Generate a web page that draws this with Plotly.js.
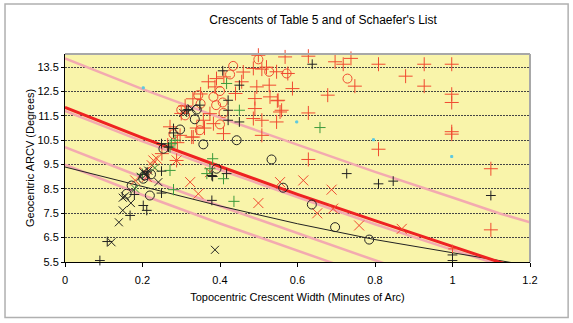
<!DOCTYPE html>
<html><head><meta charset="utf-8">
<script src="https://cdn.plot.ly/plotly-3.0.1.min.js"></script>
<style>html,body{margin:0;padding:0;background:#fff}#chart{width:573px;height:323px}</style>
</head><body><div id="chart"></div>
<script>
// ---- data ----
const lineW = [0, 0.2, 0.4, 0.6, 0.8, 1.0, 1.12, 1.2];
const redLine   = [11.85, 10.6, 9.42, 8.28, 7.2, 6.14, 5.5, 5.13];
const pinkTop   = [13.86, 12.6, 11.43, 10.3, 9.2, 8.15, 7.5, 7.13];
const pinkNear  = [11.7, 10.45, 9.28, 8.15, 7.05, 6.0, 5.38, 4.98];
const pinkMid   = [10.22, 8.97, 7.8, 6.67, 5.57, 4.5, 3.9, 3.5];
const pinkLow   = [9.5, 8.25, 7.08, 5.95, 4.85, 3.8, 3.2, 2.8];
const blackLine = [9.4, 8.6, 7.8, 7.07, 6.42, 5.88, 5.55, 5.35];

const redPlusW = [0.499,0.568,0.628,0.697,0.718,0.738,0.809,0.927,0.998,0.879,0.927,0.998,0.998,0.998,0.998,0.809,1.099,1.099,0.575,0.748,0.587,0.678,0.628,0.628,0.559,0.49,0.548,0.508,0.44,0.456,0.486,0.508,0.546,0.495,0.527,0.49,0.529,0.55,0.555,0.486,0.508,0.546,0.409,0.391,0.387,0.271,0.297,0.331,0.357,0.36,0.383,0.374,0.35,0.37,0.33,0.3,0.31,0.34,0.29,0.265,0.25,0.327,0.288,0.41,0.46,0.52];
const redPlusA = [13.99,13.92,13.95,13.72,13.62,13.86,13.62,13.62,13.62,13.13,12.72,12.39,12.05,10.85,10.75,10.13,9.33,6.82,13.24,12.72,12.62,12.35,11.62,9.71,11.73,11.8,12.12,10.7,12.42,12.9,13.45,13.42,13.31,12.69,12.76,12.21,12.28,12.14,11.66,11.39,11.32,11.25,10.77,13.03,12.69,11.05,10.7,10.63,11.32,11.0,11.18,11.59,12.4,12.9,12.2,11.6,11.9,11.0,10.4,10.3,9.95,10.63,9.67,13.1,13.3,13.5];
const redCircW = [0.31,0.348,0.4,0.407,0.4,0.426,0.434,0.499,0.527,0.572,0.729,0.39,0.344,0.383,0.35,0.409,0.3,0.28];
const redCircA = [11.52,10.91,11.15,12.05,12.52,13.2,13.55,13.82,13.31,13.24,13.03,11.94,12.35,12.28,12.0,11.62,11.75,10.75];
const redXW = [0.224,0.228,0.237,0.288,0.211,0.181,0.323,0.344,0.374,0.555,0.615,0.688,0.499,0.651,0.692,0.759,0.869,0.205];
const redXA = [9.47,9.67,9.74,9.67,8.99,8.85,8.78,8.3,9.19,8.78,8.85,8.47,7.92,7.5,7.69,7.0,6.86,9.2];
const blackPlusW = [0.09,0.109,0.168,0.179,0.202,0.211,0.249,0.249,0.249,0.267,0.28,0.28,0.314,0.318,0.348,0.407,0.45,0.421,0.421,0.421,0.45,0.638,0.727,0.809,0.847,1.099,1.0,1.0,0.379,0.417,0.381,0.379,0.212];
const blackPlusA = [5.56,6.34,7.41,8.27,7.82,7.62,8.33,9.23,10.36,10.22,10.98,10.8,11.73,11.76,11.94,13.35,12.76,12.14,11.73,11.32,11.25,13.62,9.13,8.71,8.82,8.23,5.79,5.56,9.05,9.13,9.01,8.03,9.2];
const blackCircW = [0.159,0.172,0.219,0.202,0.205,0.254,0.297,0.335,0.34,0.357,0.391,0.443,0.533,0.563,0.637,0.697,0.785,0.222];
const blackCircA = [8.3,8.64,8.23,8.92,9.05,10.15,10.94,11.36,11.76,10.33,9.33,10.5,9.71,8.55,7.86,6.93,6.42,9.1];
const blackXW = [0.12,0.139,0.149,0.17,0.149,0.241,0.387,0.305,0.327,0.202,0.21,0.195,0.215,0.155];
const blackXA = [6.31,7.13,7.62,7.92,8.14,8.78,6.0,11.62,11.8,9.19,9.1,9.0,9.25,8.2];
const greenPlusW = [0.417,0.45,0.658,0.381,0.366,0.409,0.436,0.28,0.271,0.275,0.271,0.284,0.374,0.2];
const greenPlusA = [12.83,11.73,11.02,9.74,9.13,8.92,7.99,8.47,9.26,10.36,10.22,10.5,9.33,9.1];
const greenXW = [0.232,0.181];
const greenXA = [9.37,8.51];
const cyanW = [0.202,0.598,0.796,0.998];
const cyanA = [12.65,11.25,10.52,9.83];
const smallRedW = [1.0];
const smallRedA = [6.04];

const RED = '#f04a30', BLK = '#222222', GRN = '#3c9a3c';
const PINK = 'rgb(243,170,176)';
function line(y, color, width) {
  return {x: lineW, y: y, mode: 'lines', line: {color: color, width: width}, hoverinfo: 'skip'};
}
function pts(x, y, sym, color, size, lw) {
  return {x: x, y: y, mode: 'markers', cliponaxis: false,
    marker: {symbol: sym, size: size, color: color, line: {color: color, width: lw || 1}}};
}
const traces = [
  line(pinkTop, PINK, 2.5),
  line(pinkNear, PINK, 2.5),
  line(pinkMid, PINK, 2.5),
  line(pinkLow, PINK, 2.5),
  line(blackLine, BLK, 1),
  line(redLine, '#ee2222', 3),
  pts(redPlusW, redPlusA, 'cross-thin-open', RED, 10),
  pts(redCircW, redCircA, 'circle-open', RED, 9),
  pts(redXW, redXA, 'x-thin-open', RED, 10),
  pts(greenPlusW, greenPlusA, 'cross-thin-open', GRN, 8),
  pts(greenXW, greenXA, 'x-thin-open', GRN, 8),
  pts(blackPlusW, blackPlusA, 'cross-thin-open', BLK, 7),
  pts(blackCircW, blackCircA, 'circle-open', BLK, 9),
  pts(blackXW, blackXA, 'x-thin-open', BLK, 8),
  pts(cyanW, cyanA, 'square', '#5cc8e0', 2, 0),
  pts(smallRedW, smallRedA, 'cross-thin-open', RED, 6)
];
const F = 'Arial, "Liberation Sans", sans-serif';
const layout = {
  width: 573, height: 323,
  margin: {l: 65, r: 43, t: 54, b: 61},
  paper_bgcolor: '#ffffff', plot_bgcolor: '#f9f4aa',
  showlegend: false,
  font: {family: F, size: 11, color: '#000'},
  title: {text: "Crescents of Table 5 and of Schaefer's List", font: {family: F, size: 12, color: '#000'},
    xref: 'paper', x: 0.555, xanchor: 'center', yref: 'container', y: 0.938, yanchor: 'middle'},
  xaxis: {range: [0, 1.2], tick0: 0, dtick: 0.2, showgrid: false, zeroline: false,
    showline: true, linecolor: '#000', linewidth: 1, ticks: 'outside', ticklen: 4, tickcolor: '#000',
    ticklabelstandoff: 4, tickfont: {family: F, size: 11},
    title: {text: 'Topocentric Crescent Width (Minutes of Arc)', font: {family: F, size: 11}, standoff: 8}},
  yaxis: {range: [5.5, 14.04], tick0: 5.5, dtick: 1, showgrid: true, gridcolor: '#444', griddash: '2px,1px', gridwidth: 1,
    zeroline: false, showline: true, linecolor: '#000', linewidth: 1, ticks: 'outside', ticklen: 3, tickcolor: '#000',
    tickformat: '.1f', tickfont: {family: F, size: 11}},
  annotations: [
    {text: 'Geocentric ARCV (Degrees)', textangle: -90, xref: 'paper', yref: 'paper',
     x: -0.0753, y: 0.5, xanchor: 'center', yanchor: 'middle', showarrow: false, font: {family: F, size: 11, color: '#000'}}
  ],
  shapes: [
    {type: 'line', xref: 'paper', yref: 'paper', x0: 0, x1: 1, y0: 1, y1: 1, line: {color: '#a8a8a8', width: 2}},
    {type: 'line', xref: 'paper', yref: 'paper', x0: 1, x1: 1, y0: 0, y1: 1, line: {color: '#a8a8a8', width: 2}},
    {type: 'rect', xref: 'paper', yref: 'paper', x0: -0.129, x1: 1.082, y0: -0.267, y1: 1.24, line: {color: '#b0b0b0', width: 1.5}}
  ]
};
Plotly.newPlot('chart', traces, layout, {displayModeBar: false, staticPlot: true});
</script></body></html>
